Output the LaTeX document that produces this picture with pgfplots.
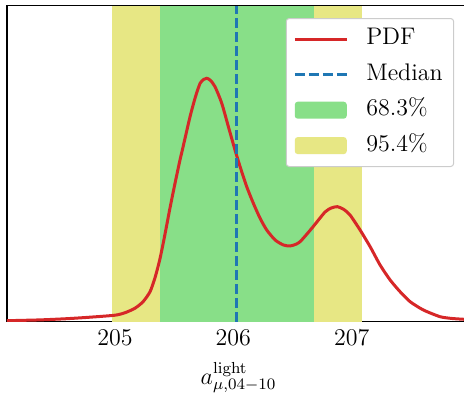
\documentclass[12pt,border=0pt]{standalone}
\usepackage{pgfplots}
\pgfplotsset{compat=1.18}
\definecolor{pdfred}{RGB}{214,39,40}
\definecolor{medblue}{RGB}{31,119,180}
\definecolor{bandgreen}{RGB}{136,223,136}
\definecolor{bandyellow}{RGB}{231,231,132}
\pgfplotsset{
  lineleg/.style={legend image code/.code={\draw[##1] (0pt,0pt) -- (26pt,0pt);}},
  boxleg/.style={legend image code/.code={\fill[##1] (0pt,-4.25pt) rectangle (26pt,4.25pt);}},
}
\pgfplotstableread{
x h
204.085 1.0
204.366 1.8
204.592 3.0
204.789 4.5
205.000 6.5
205.085 9.0
205.169 13.5
205.237 20
205.296 30
205.338 44
205.380 63
205.423 88
205.465 114
205.507 138.4
205.549 161.7
205.569 171.7
205.634 205
205.680 225
205.719 238.4
205.750 242.3
205.775 243.4
205.805 241.5
205.845 235
205.902 218.4
205.958 195
206.014 171.7
206.057 155
206.113 135
206.169 118.4
206.226 103.4
206.282 91.7
206.353 81.7
206.423 76.7
206.479 75.7
206.530 77.5
206.564 80
206.615 86.7
206.674 95
206.775 109.7
206.830 113.8
206.879 115
206.930 112.5
206.986 106.7
207.071 91.7
207.156 75
207.240 56.7
207.325 41.7
207.409 30
207.494 20
207.606 11.7
207.747 5
207.850 3.2
207.950 2.4
208.000 2.1
}\pdfdata
\begin{document}
\begin{tikzpicture}
\useasboundingbox (-3.5pt,-36.15pt) rectangle (228.5pt,160.85pt);
\begin{axis}[
  scale only axis,
  width=231.5pt, height=158pt,
  xmin=204.087, xmax=208.0,
  ymin=0, ymax=316,
  axis line style={line width=0.8pt, black},
  xtick={205,206,207},
  ytick=\empty,
  tick pos=both,
  tick align=inside,
  major tick length=6pt,
  xtick style={line width=0.8pt, black},
  xlabel={$a^{\mathrm{light}}_{\mu,04-10}$},
  legend style={at={(0.9657,0.961)}, anchor=north east, draw=black!20, line width=0.5pt,
    rounded corners=1.5pt, fill=white, inner xsep=3.5pt, inner ysep=2.7pt,
    nodes={inner sep=2pt, text height=8.5pt, text depth=3pt},
    row sep=2.2pt, column sep=7pt},
  legend cell align=left,
]
\addplot[fill=bandyellow, draw=none, forget plot] coordinates {(204.975,0) (204.975,316) (207.087,316) (207.087,0)} -- cycle;
\addplot[fill=bandgreen, draw=none, forget plot] coordinates {(205.383,0) (205.383,316) (206.68,316) (206.68,0)} -- cycle;
\addplot[pdfred, line width=1.5pt, smooth, tension=0.4, forget plot] table[x=x,y=h] {\pdfdata};
\addplot[medblue, line width=1.5pt, dash pattern=on 5pt off 2pt, forget plot] coordinates {(206.03,0) (206.03,316)};
\addlegendimage{pdfred, line width=1.5pt, lineleg}
\addlegendentry{PDF}
\addlegendimage{medblue, line width=1.5pt, dash pattern=on 5pt off 2pt, lineleg}
\addlegendentry{Median}
\addlegendimage{fill=bandgreen, draw=none, boxleg}
\addlegendentry{68.3\%}
\addlegendimage{fill=bandyellow, draw=none, boxleg}
\addlegendentry{95.4\%}
\end{axis}
\end{tikzpicture}
\end{document}
